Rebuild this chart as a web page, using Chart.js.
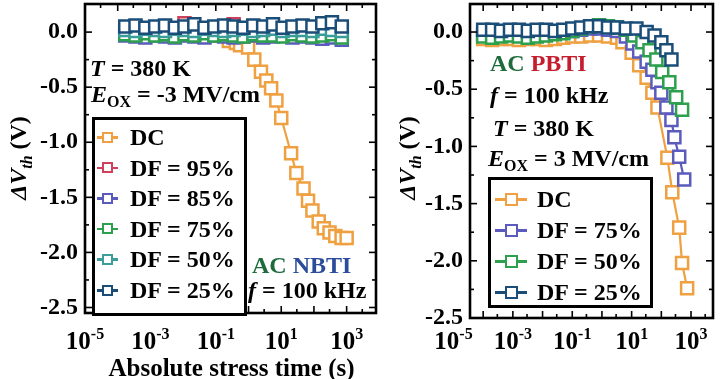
<!DOCTYPE html>
<html>
<head>
<meta charset="utf-8">
<script src="https://cdn.jsdelivr.net/npm/chart.js@4.4.0/dist/chart.umd.min.js"></script>
<style>
  body { margin: 0; background: #fff; width: 720px; height: 379px; overflow: hidden; position: relative; }
  #wrapL { position: absolute; left: 0; top: 0; width: 380px; height: 379px; }
  #wrapR { position: absolute; left: 380px; top: 0; width: 340px; height: 379px; }
  .txt { position: absolute; font-family: "Liberation Serif", "Times New Roman", serif; font-weight: bold; font-size: 24px; line-height: 24px; white-space: nowrap; color: #000; }
  .txt sub { font-size: 16px; vertical-align: -5px; line-height: 0; }
  .box { position: absolute; border: 3px solid #000; background: #fff; }
</style>
</head>
<body>
<div id="wrapL"><canvas id="chartL"></canvas></div>
<div id="wrapR"><canvas id="chartR"></canvas></div>

<!-- 왼쪽 주석 -->
<div class="txt" style="left:90px;top:56px"><i>T</i> = 380 K</div>
<div class="txt" style="left:91px;top:82px"><i>E</i><sub>OX</sub> = -3 MV/cm</div>
<div class="txt" style="left:252px;top:253px"><span style="color:#1e6b3c">AC</span> <span style="color:#2b4c9b">NBTI</span></div>
<div class="txt" style="left:248px;top:278px"><i>f</i> = 100 kHz</div>
<div class="box" id="legL" style="left:92px;top:117px;width:149px;height:193px"></div>

<!-- 오른쪽 주석 -->
<div class="txt" style="left:490px;top:51px"><span style="color:#1e6b3c">AC</span> <span style="color:#c41e2e">PBTI</span></div>
<div class="txt" style="left:490px;top:83px"><i>f</i> = 100 kHz</div>
<div class="txt" style="left:493px;top:116px"><i>T</i> = 380 K</div>
<div class="txt" style="left:488px;top:146px"><i>E</i><sub>OX</sub> = 3 MV/cm</div>
<div class="box" id="legR" style="left:488px;top:177px;width:159px;height:125px"></div>

<script>
// ===== 데이터 =====
const yTickVals = [-2.5, -2.0, -1.5, -1.0, -0.5, 0.0];
const yMinorVals = [-2.25, -1.75, -1.25, -0.75, -0.25];
const xDecades = [1e-5, 1e-4, 1e-3, 1e-2, 1e-1, 1, 1e1, 1e2, 1e3];
const xHalfDecades = [3e-5, 3e-4, 3e-3, 3e-2, 3e-1, 3, 3e1, 3e2, 3e3];
const xLabelVals = [1e-5, 1e-3, 1e-1, 1e1, 1e3];
const xLabelExps = ['-5', '-3', '-1', '1', '3'];

// 왼쪽: AC NBTI
const leftTimeAC = [1.7e-4, 3.5e-4, 7e-4, 1.4e-3, 2.8e-3, 5.6e-3, 1.1e-2, 2.2e-2, 4.5e-2, 9e-2, 0.18, 0.35, 0.7, 1.4, 2.8, 5.6, 11, 22, 45, 90, 180, 355, 710];
const leftDF95 = [0.03, 0.04, 0.02, 0.03, 0.05, 0.02, 0.08, 0.03, 0.02, 0.04, 0.03, 0.07, 0.02, 0.03, 0.04, 0.03, 0.02, 0.03, 0.02, 0.03, 0.04, 0.03, 0.02];
const leftDF85 = [-0.03, -0.04, -0.05, -0.03, -0.04, -0.05, -0.03, -0.04, -0.05, -0.03, -0.04, -0.05, -0.04, -0.03, -0.05, -0.04, -0.03, -0.05, -0.04, -0.05, -0.06, -0.05, -0.07];
const leftDF75 = [-0.02, -0.03, -0.01, -0.03, -0.02, -0.04, -0.02, -0.03, -0.01, -0.03, -0.02, -0.03, -0.04, -0.02, -0.03, -0.03, -0.04, -0.02, -0.03, -0.04, -0.03, -0.02, -0.05];
const leftDF50 = [0.02, 0.01, 0.03, 0.02, 0.01, 0.03, 0.02, 0.01, 0.03, 0.02, 0.01, 0.02, 0.03, 0.01, 0.02, 0.03, 0.01, 0.02, 0.02, 0.01, 0.03, 0.02, 0.01];
const leftDF25 = [0.05, 0.06, 0.04, 0.05, 0.06, 0.04, 0.05, 0.07, 0.04, 0.05, 0.06, 0.05, 0.04, 0.06, 0.05, 0.07, 0.04, 0.05, 0.06, 0.05, 0.08, 0.09, 0.05];
const leftTimeDC = [0.25, 0.41, 0.55, 0.97, 1.5, 2.4, 3.5, 4.9, 7.1, 10, 20, 29, 48, 66, 90, 140, 200, 300, 450, 700, 1000];
const leftDC = [-0.08, -0.10, -0.12, -0.14, -0.25, -0.36, -0.44, -0.51, -0.62, -0.78, -1.10, -1.28, -1.42, -1.53, -1.62, -1.72, -1.78, -1.82, -1.85, -1.87, -1.87];

// 오른쪽: AC PBTI
const rightTimeFlat = [1e-4, 2e-4, 4e-4, 8e-4, 1.6e-3, 3.2e-3, 6.4e-3, 1.3e-2, 2.6e-2, 5e-2, 0.1, 0.2, 0.4, 0.8, 1.6, 3.2];
const rightTimeDF25 = [...rightTimeFlat, 6.4, 14.5, 32, 59, 100, 148, 219];
const rightDF25 = [0.02, 0.02, 0.01, 0.02, 0.02, 0.01, 0.02, 0.02, 0.01, 0.02, 0.03, 0.04, 0.05, 0.05, 0.04, 0.04, 0.03, 0.03, 0.0, -0.03, -0.09, -0.16, -0.24];
const rightTimeDF50 = [...rightTimeFlat, 6.4, 12, 23, 40, 68, 107, 186, 316, 500];
const rightDF50 = [-0.04, -0.05, -0.04, -0.03, -0.04, -0.05, -0.04, -0.03, -0.02, -0.01, 0.01, 0.03, 0.05, 0.06, 0.05, 0.04, 0.02, -0.03, -0.09, -0.16, -0.24, -0.35, -0.44, -0.57, -0.68];
const rightTimeDF75 = [...rightTimeFlat, 6.4, 10.7, 18, 32, 50, 74, 100, 148, 219, 275, 400, 590];
const rightDF75 = [-0.02, -0.02, -0.03, -0.02, -0.02, -0.03, -0.02, -0.02, -0.01, 0.0, 0.01, 0.02, 0.03, 0.03, 0.02, 0.01, -0.04, -0.10, -0.17, -0.26, -0.33, -0.44, -0.53, -0.66, -0.77, -0.92, -1.09, -1.29];
const rightTimeDC = [...rightTimeFlat, 4.9, 10, 18, 32, 50, 74, 160, 234, 400, 500, 740];
const rightDC = [-0.06, -0.07, -0.06, -0.06, -0.07, -0.06, -0.06, -0.07, -0.06, -0.05, -0.04, -0.04, -0.03, -0.03, -0.04, -0.05, -0.09, -0.18, -0.29, -0.40, -0.53, -0.66, -1.10, -1.40, -1.71, -2.02, -2.24];

const legendLeft = ['DC', 'DF = 95%', 'DF = 85%', 'DF = 75%', 'DF = 50%', 'DF = 25%'];
const legendRight = ['DC', 'DF = 75%', 'DF = 50%', 'DF = 25%'];

// ===== 색상 =====
const C = { dc: '#efa040', red: '#d0405a', purple: '#5b5bbd', green: '#2da04e', teal: '#3a9d9a', navy: '#1a4d78' };
const FONT = '"Liberation Serif", "Times New Roman", serif';

const pts = (xs, ys) => xs.map((t, i) => ({ x: t, y: ys[i] }));
const ds = (label, xs, ys, color, order) => ({
  label, data: pts(xs, ys), order,
  borderColor: color, pointBorderColor: color, backgroundColor: '#fff', pointBackgroundColor: '#fff',
  borderWidth: 2.2, pointBorderWidth: 2.5, pointStyle: 'rect', pointRadius: 8.5, tension: 0, fill: false
});

// 프레임, 눈금, 축 라벨
const framePlugin = {
  id: 'frame',
  afterDraw(chart, args, o) {
    const { ctx, chartArea: a } = chart;
    const xs = chart.scales.x, ys = chart.scales.y;
    const seg = (x1, y1, x2, y2) => { ctx.beginPath(); ctx.moveTo(x1, y1); ctx.lineTo(x2, y2); ctx.stroke(); };
    ctx.save();
    ctx.strokeStyle = '#000';
    ctx.lineWidth = 1.6;
    xDecades.forEach(v => {
      const p = xs.getPixelForValue(v);
      if (p < a.left || p > a.right) return;
      seg(p, a.bottom, p, a.bottom - 7); seg(p, a.top, p, a.top + 7);
    });
    xHalfDecades.forEach(v => {
      const p = xs.getPixelForValue(v);
      if (p < a.left || p > a.right) return;
      seg(p, a.bottom, p, a.bottom - 4); seg(p, a.top, p, a.top + 4);
    });
    yTickVals.forEach(v => {
      const p = ys.getPixelForValue(v);
      seg(a.left, p, a.left + 7, p); seg(a.right, p, a.right - 7, p);
    });
    yMinorVals.forEach(v => {
      const p = ys.getPixelForValue(v);
      seg(a.left, p, a.left + 4, p); seg(a.right, p, a.right - 4, p);
    });
    ctx.lineWidth = 2.6;
    ctx.strokeRect(a.left, a.top, a.right - a.left, a.bottom - a.top);

    // x 눈금 라벨 (10^n)
    ctx.fillStyle = '#000';
    ctx.textBaseline = 'alphabetic';
    ctx.textAlign = 'left';
    xLabelVals.forEach((v, i) => {
      const p = xs.getPixelForValue(v);
      ctx.font = 'bold 25px ' + FONT;
      const w1 = ctx.measureText('10').width;
      ctx.font = 'bold 16px ' + FONT;
      const w2 = ctx.measureText(xLabelExps[i]).width;
      const x0 = p - (w1 + w2) / 2;
      ctx.font = 'bold 25px ' + FONT;
      ctx.fillText('10', x0, o.labelBase);
      ctx.font = 'bold 16px ' + FONT;
      ctx.fillText(xLabelExps[i], x0 + w1, o.labelBase - 10);
    });

    // x 축 제목
    if (o.xTitle) {
      ctx.font = 'bold 25px ' + FONT;
      ctx.textAlign = 'center';
      ctx.fillText(o.xTitle, (a.left + a.right) / 2 + 1, 376);
    }

    // y 축 제목: ΔV_th (V)
    const parts = [
      ['Δ', 'italic bold 24px ' + FONT, 0],
      ['V', 'italic bold 24px ' + FONT, 0],
      ['th', 'italic bold 16px ' + FONT, 6],
      [' (V)', 'bold 24px ' + FONT, 0]
    ];
    let total = 0;
    parts.forEach(p => { ctx.font = p[1]; total += ctx.measureText(p[0]).width; });
    ctx.translate(o.yTitleX, o.yTitleY);
    ctx.rotate(-Math.PI / 2);
    ctx.textAlign = 'left';
    let cx = -total / 2;
    parts.forEach(p => {
      ctx.font = p[1];
      ctx.fillText(p[0], cx, 8 + p[2]);
      cx += ctx.measureText(p[0]).width;
    });
    ctx.restore();
  }
};

function makeChart(id, datasets, xMin, xMax, yMin, yMax, yWidth, xHeight, padRight, frameOpts) {
  return new Chart(document.getElementById(id), {
    type: 'line',
    data: { datasets },
    plugins: [framePlugin],
    options: {
      responsive: true, maintainAspectRatio: false, animation: false,
      layout: { autoPadding: false, padding: { top: 4, right: padRight, left: 0, bottom: 0 } },
      plugins: { legend: { display: false }, tooltip: { enabled: false }, frame: frameOpts },
      scales: {
        x: {
          type: 'logarithmic', min: xMin, max: xMax,
          grid: { display: false, drawTicks: false }, border: { display: false },
          ticks: { display: false },
          afterFit: s => { s.height = xHeight; s.paddingLeft = 0; s.paddingRight = 0; }
        },
        y: {
          min: yMin, max: yMax,
          grid: { display: false, drawTicks: false }, border: { display: false },
          afterBuildTicks: s => { s.ticks = yTickVals.map(v => ({ value: v })); },
          ticks: { color: '#000', padding: 7, font: { family: FONT, size: 24, weight: 'bold' }, callback: v => v.toFixed(1) },
          afterFit: s => { s.width = yWidth; s.paddingTop = 0; s.paddingBottom = 0; }
        }
      }
    }
  });
}

makeChart('chartL', [
  ds('DF = 25%', leftTimeAC, leftDF25, C.navy, 1),
  ds('DF = 50%', leftTimeAC, leftDF50, C.teal, 2),
  ds('DF = 75%', leftTimeAC, leftDF75, C.green, 3),
  ds('DF = 95%', leftTimeAC, leftDF95, C.red, 4),
  ds('DF = 85%', leftTimeAC, leftDF85, C.purple, 5),
  ds('DC', leftTimeDC, leftDC, C.dc, 6)
], 1e-5, 7.9e3, -2.55, 0.255, 85, 66, 4,
  { labelBase: 349, xTitle: 'Absolute stress time (s)', yTitleX: 18, yTitleY: 158 });

makeChart('chartR', [
  ds('DF = 25%', rightTimeDF25, rightDF25, C.navy, 1),
  ds('DF = 50%', rightTimeDF50, rightDF50, C.green, 2),
  ds('DF = 75%', rightTimeDF75, rightDF75, C.purple, 3),
  ds('DC', rightTimeDC, rightDC, C.dc, 4)
], 3.6e-5, 5.5e3, -2.5, 0.245, 90, 61, 7,
  { labelBase: 349, xTitle: null, yTitleX: 27, yTitleY: 158 });

// ===== 범례 (HTML) =====
function addLegend(labels, colors, startY, stepY, lineX, lineW, sq, textX) {
  labels.forEach((lab, i) => {
    const cy = startY + i * stepY;
    const line = document.createElement('div');
    line.style.cssText = `position:absolute;left:${lineX}px;top:${cy - 1}px;width:${lineW}px;height:2.5px;background:${colors[i]}`;
    const box = document.createElement('div');
    const bx = lineX + lineW / 2 - sq / 2;
    box.style.cssText = `position:absolute;left:${bx}px;top:${cy - sq / 2}px;width:${sq - 4}px;height:${sq - 4}px;border:2.2px solid ${colors[i]};background:#fff`;
    const t = document.createElement('div');
    t.className = 'txt';
    t.style.left = textX + 'px';
    t.style.top = (cy - 12) + 'px';
    t.textContent = lab;
    document.body.append(line, box, t);
  });
}
addLegend(legendLeft, [C.dc, C.red, C.purple, C.green, C.teal, C.navy], 137, 30.6, 97, 21, 11, 130);
addLegend(legendRight, [C.dc, C.purple, C.green, C.navy], 199, 31, 495, 32, 13, 537);
</script>
</body>
</html>
